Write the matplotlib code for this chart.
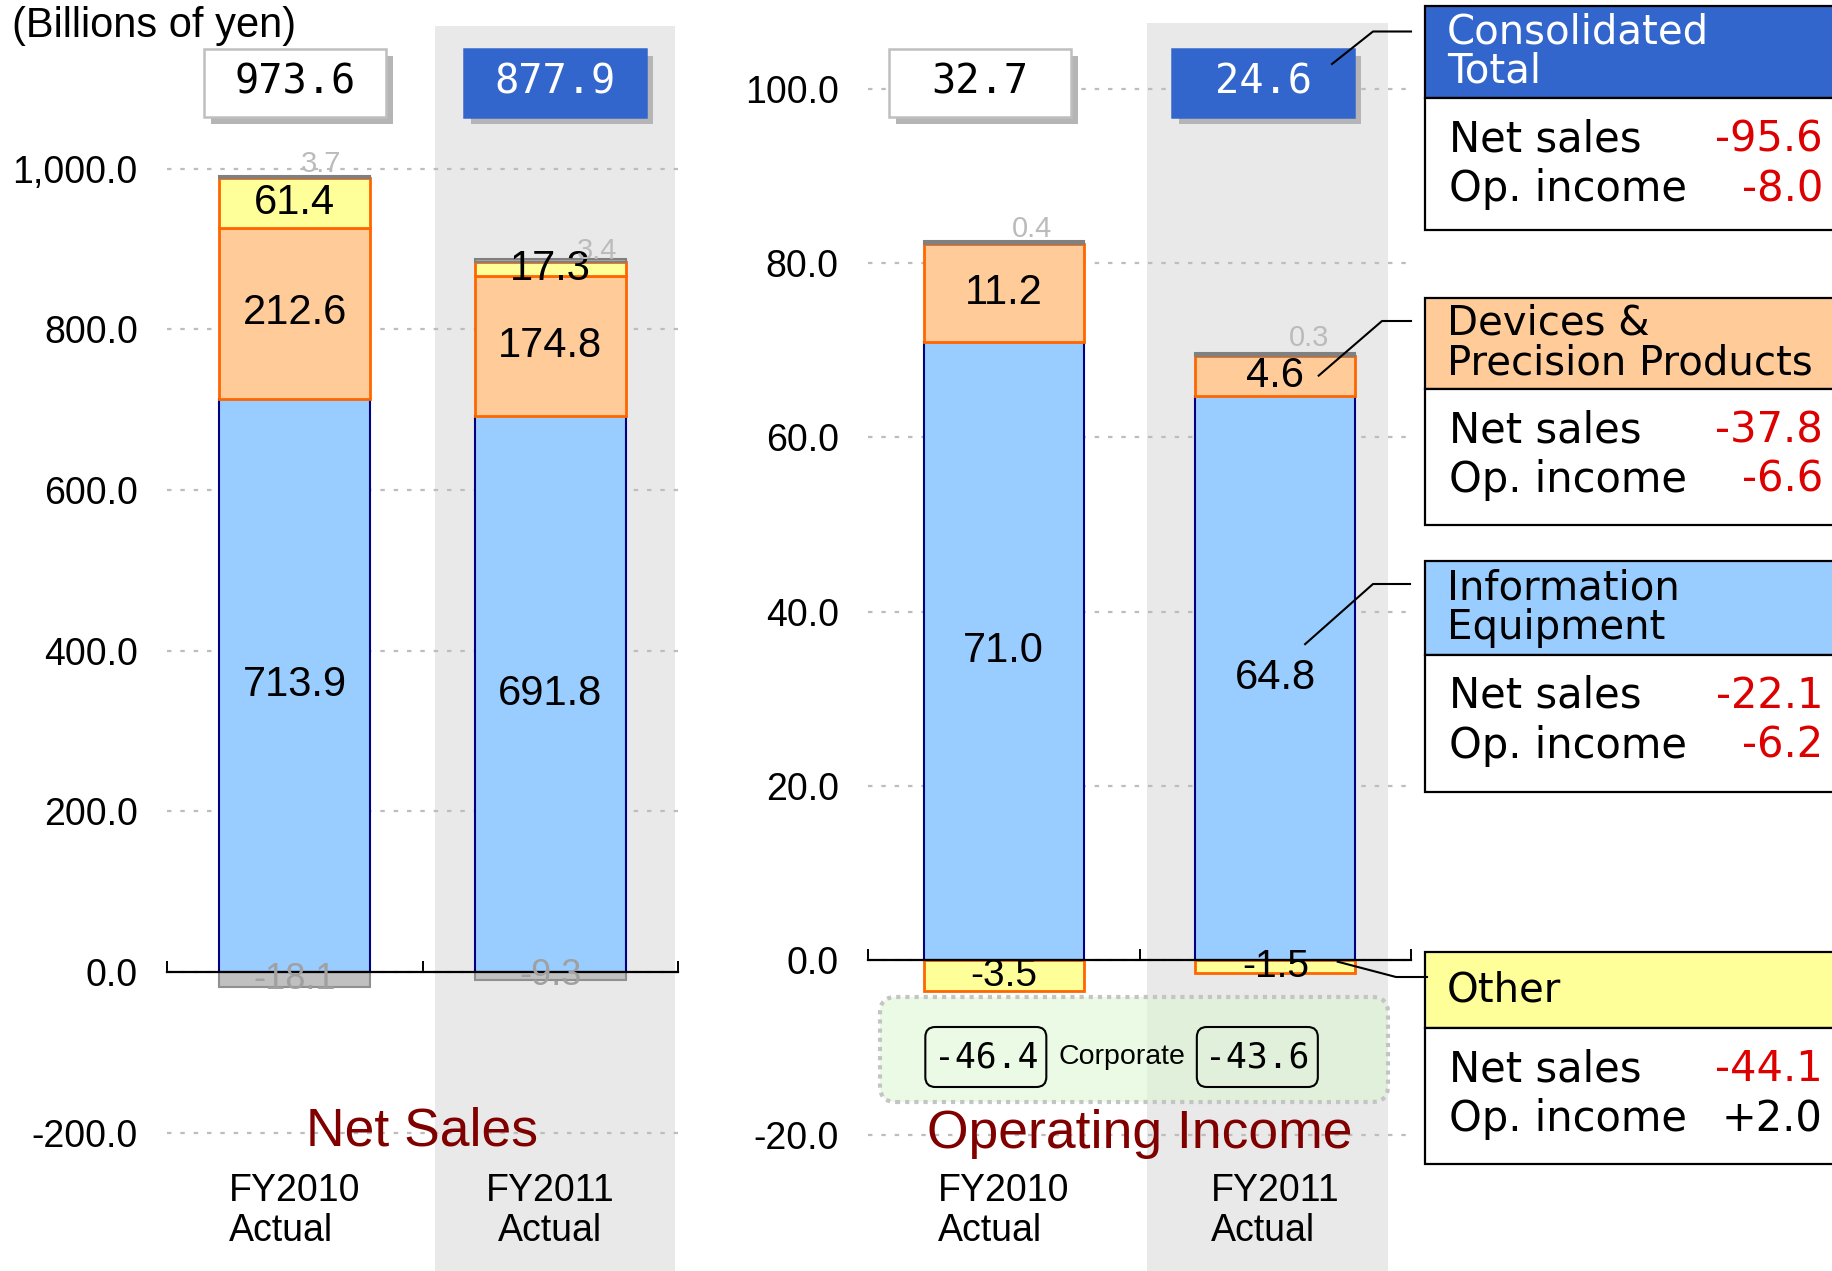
import matplotlib
matplotlib.use("Agg")
import matplotlib.pyplot as plt
import numpy as np
from matplotlib.patches import Rectangle, FancyBboxPatch
from matplotlib.lines import Line2D
import matplotlib.transforms as mtransforms

# ---------------- data ----------------
categories = ["FY2010\nActual", "FY2011\nActual"]

ns_info = [713.9, 691.8]
ns_devices = [212.6, 174.8]
ns_other = [61.4, 17.3]
ns_elim_top = [3.7, 3.4]
ns_elim_bottom = [-18.1, -9.3]
ns_total = [973.6, 877.9]

oi_info = [71.0, 64.8]
oi_devices = [11.2, 4.6]
oi_elim = [0.4, 0.3]
oi_other = [-3.5, -1.5]
oi_corporate = [-46.4, -43.6]
oi_total = [32.7, 24.6]

ns_ticks = [-200, 0, 200, 400, 600, 800, 1000]
oi_ticks = [-20, 0, 20, 40, 60, 80, 100]

panel_titles = ["Consolidated\nTotal", "Devices &\nPrecision Products",
                "Information\nEquipment", "Other"]
panel_ns_change = [-95.6, -37.8, -22.1, -44.1]
panel_oi_change = [-8.0, -6.6, -6.2, 2.0]

# ---------------- style ----------------
W, H = 1832, 1271
C_INFO, E_INFO = "#99CCFF", "#000080"
C_DEV, E_DEV = "#FFCC99", "#FF6600"
C_OTH = "#FFFF99"
C_BLUE = "#3366CC"
C_RED = "#DD0000"
C_TITLE = "#800000"
SANS = ["Liberation Sans", "DejaVu Sans"]
WIDE = ["DejaVu Sans"]
MONO = ["DejaVu Sans Mono", "DejaVu Sans"]

fig = plt.figure(figsize=(W / 100, H / 100), dpi=100)
fig.patch.set_facecolor("white")
PIX = mtransforms.IdentityTransform()


def P(x, ytop):
    return (x, H - ytop)


def setup(ax, ylim, ticks, band):
    ax.set_xlim(-0.5, 1.5)
    ax.set_ylim(*ylim)
    ax.patch.set_visible(False)
    for s in ["top", "right", "left"]:
        ax.spines[s].set_visible(False)
    ax.spines["bottom"].set_position(("data", 0))
    ax.spines["bottom"].set_linewidth(1.6)
    ax.spines["bottom"].set_zorder(4)
    ax.set_xticks([-0.5, 0.5, 1.5])
    ax.set_xticklabels([])
    ax.tick_params(axis="x", direction="in", length=8, width=1.4, color="black")
    ax.set_yticks(ticks)
    ax.set_yticklabels([f"{t:,.1f}" for t in ticks], fontsize=27, family=SANS)
    ax.tick_params(axis="y", length=0, pad=21)
    ax.yaxis.grid(True, color="#BDBDBD", linestyle=(0, (2, 4)), linewidth=1.6)
    ax.set_axisbelow(True)
    ax.axvspan(band[0], band[1], ymin=0, ymax=band[2], color="#E9E9E9",
               zorder=0, lw=0)


ax1 = fig.add_axes([167 / W, 0, (678 - 167) / W, 1])
ax2 = fig.add_axes([868 / W, 0, (1411 - 868) / W, 1])
setup(ax1, (-372.1, 1210.1), ns_ticks, (0.55, 1.49, 1 - 26 / H))
setup(ax2, (-35.64, 110.2), oi_ticks, (0.526, 1.415, 1 - 23 / H))

x = np.arange(len(categories))
bw = 0.59

# ---------------- Net sales bars ----------------
b_info = np.array(ns_info)
b_dev = b_info + np.array(ns_devices)
b_oth = b_dev + np.array(ns_other)
ax1.bar(x, ns_info, bw, color=C_INFO, edgecolor=E_INFO, lw=1.5, zorder=2)
ax1.bar(x, ns_devices, bw, bottom=b_info, color=C_DEV, edgecolor=E_DEV, lw=2, zorder=2)
ax1.bar(x, ns_other, bw, bottom=b_dev, color=C_OTH, edgecolor=E_DEV, lw=2, zorder=2)
ax1.bar(x, ns_elim_top, bw, bottom=b_oth, color="#A6A6A6", edgecolor="#808080", lw=1.5, zorder=2)
ax1.bar(x, ns_elim_bottom, bw, color="#C0C0C0", edgecolor="#909090", lw=1.5, zorder=2)

for i in x:
    ax1.text(i, ns_info[i] / 2, f"{ns_info[i]:.1f}", ha="center", va="center",
             fontsize=30, family=SANS, zorder=5)
    ax1.text(i, b_info[i] + ns_devices[i] / 2, f"{ns_devices[i]:.1f}", ha="center",
             va="center", fontsize=30, family=SANS, zorder=5)
    ax1.text(i, b_dev[i] + ns_other[i] / 2, f"{ns_other[i]:.1f}", ha="center",
             va="center", fontsize=30, family=SANS, zorder=5)
    ax1.text(i, ns_elim_bottom[i] / 2, f"{ns_elim_bottom[i]:.1f}", ha="center",
             va="center", fontsize=26, family=SANS, color="#A0A0A0", zorder=5)
top_off = [(19, 8), (34, 6)]
for i in x:
    ax1.annotate(f"{ns_elim_top[i]:.1f}", xy=(i, b_oth[i] + ns_elim_top[i]),
                 xytext=top_off[i], textcoords="offset points", ha="center",
                 va="center", fontsize=21, family=SANS, color="#BBBBBB", zorder=5)

# ---------------- Operating income bars ----------------
o_info = np.array(oi_info)
o_dev = o_info + np.array(oi_devices)
ax2.bar(x, oi_info, bw, color=C_INFO, edgecolor=E_INFO, lw=1.5, zorder=2)
ax2.bar(x, oi_devices, bw, bottom=o_info, color=C_DEV, edgecolor=E_DEV, lw=2, zorder=2)
ax2.bar(x, oi_elim, bw, bottom=o_dev, color="#808080", edgecolor="#808080", lw=1.5, zorder=2)
ax2.bar(x, oi_other, bw, color=C_OTH, edgecolor=E_DEV, lw=2, zorder=2)
for i in x:
    ax2.text(i, oi_info[i] / 2, f"{oi_info[i]:.1f}", ha="center", va="center",
             fontsize=30, family=SANS, zorder=5)
    ax2.text(i, o_info[i] + oi_devices[i] / 2, f"{oi_devices[i]:.1f}", ha="center",
             va="center", fontsize=30, family=SANS, zorder=5)
    ax2.text(i, oi_other[i] / 2, f"{oi_other[i]:.1f}", ha="center", va="center",
             fontsize=28, family=SANS, zorder=5)
top_off2 = [(20, 8), (24, 11)]
for i in x:
    ax2.annotate(f"{oi_elim[i]:.1f}", xy=(i, o_dev[i] + oi_elim[i]),
                 xytext=top_off2[i], textcoords="offset points", ha="center",
                 va="center", fontsize=21, family=SANS, color="#BBBBBB", zorder=5)

# ---------------- total boxes ----------------
def total_box(ax, cx, w, value, blue):
    trans = ax.get_xaxis_transform()
    y0, y1 = 1 - 117 / H, 1 - 49 / H
    shadow_t = mtransforms.offset_copy(trans, fig=fig, x=7, y=-7, units="dots")
    ax.add_patch(Rectangle((cx - w / 2, y0), w, y1 - y0, transform=shadow_t,
                           facecolor="#B5B5B5", edgecolor="none", zorder=6,
                           clip_on=False))
    ax.add_patch(Rectangle((cx - w / 2, y0), w, y1 - y0, transform=trans,
                           facecolor=C_BLUE if blue else "white",
                           edgecolor=C_BLUE if blue else "#BFBFBF", lw=1.8,
                           zorder=7, clip_on=False))
    ax.text(cx, (y0 + y1) / 2, f"{value:,.1f}", transform=trans, ha="center",
            va="center", fontsize=29, family=MONO,
            color="white" if blue else "black", zorder=8)


for i in x:
    total_box(ax1, i + [0.0, 0.02][i], 0.712, ns_total[i], i == 1)
    total_box(ax2, i - [0.088, 0.045][i], 0.67, oi_total[i], i == 1)

# ---------------- titles and category labels ----------------
ax1.annotate("Net Sales", xy=(0.5, ns_ticks[0]), xytext=(0, -9.5),
             textcoords="offset points", ha="center", va="baseline",
             fontsize=38.5, family=SANS, color=C_TITLE, zorder=5)
ax2.annotate("Operating Income", xy=(0.5, oi_ticks[0]), xytext=(0, -9.5),
             textcoords="offset points", ha="center", va="baseline",
             fontsize=38.5, family=SANS, color=C_TITLE, zorder=5)
for ax in (ax1, ax2):
    for i, c in enumerate(categories):
        ax.text(i, 1 - 1211 / H, c, transform=ax.get_xaxis_transform(),
                ha="center", va="center", fontsize=27, family=SANS,
                linespacing=1.17,
                multialignment="center" if (ax is ax1 and i == 1) else "left")

fig.text(12 / W, 1 - 26 / H, "(Billions of yen)", ha="left", va="center",
         fontsize=30, family=SANS)

# ---------------- corporate box ----------------
fig.patches.append(FancyBboxPatch(P(880, 1102), 1388 - 880, 1102 - 997,
                                  boxstyle="round,pad=0,rounding_size=16",
                                  transform=PIX, facecolor=(0.86, 0.97, 0.82, 0.55),
                                  edgecolor="#C4C4C4", lw=3, linestyle=(0, (1, 1.2)),
                                  zorder=1))
fig.canvas.draw()
for i in x:
    cx, _ = ax2.transData.transform((i - 0.066, 0))
    cy = H - 1057
    bwid, bhei = 121, 60
    fig.patches.append(FancyBboxPatch((cx - bwid / 2, cy - bhei / 2), bwid, bhei,
                                      boxstyle="round,pad=0,rounding_size=10",
                                      transform=PIX, facecolor="none",
                                      edgecolor="black", lw=1.5, zorder=3))
    fig.text(cx / W, cy / H, f"{oi_corporate[i]:.1f}", ha="center", va="center",
             fontsize=25, family=MONO)
fig.text(1122 / W, 1 - 1057 / H, "Corporate", ha="center", va="center",
         fontsize=20.5, family=SANS)

# ---------------- right panels ----------------
header_colors = [C_BLUE, C_DEV, C_INFO, C_OTH]
title_colors = ["white", "black", "black", "black"]
header_top = [6, 298, 561, 952]
header_bot = [98, 389, 655, 1028]
body_bot = [230, 525, 792, 1164]
PX0, PX1 = 1425, 1900
for k in range(len(panel_titles)):
    fig.patches.append(Rectangle(P(PX0, header_bot[k]), PX1 - PX0,
                                 header_bot[k] - header_top[k], transform=PIX,
                                 facecolor=header_colors[k], edgecolor="black",
                                 lw=1.6, zorder=3))
    fig.patches.append(Rectangle(P(PX0, body_bot[k]), PX1 - PX0,
                                 body_bot[k] - header_bot[k], transform=PIX,
                                 facecolor="white", edgecolor="black", lw=1.6,
                                 zorder=3))
    hc = (header_top[k] + header_bot[k]) / 2
    fig.text(1447 / W, 1 - hc / H, panel_titles[k], ha="left", va="center",
             fontsize=29, family=WIDE, color=title_colors[k], linespacing=0.98)
    yns = header_bot[k] + 41
    yoi = header_bot[k] + 91
    fig.text(1449 / W, 1 - yns / H, "Net sales", ha="left", va="center",
             fontsize=30, family=WIDE)
    fig.text(1449 / W, 1 - yoi / H, "Op. income", ha="left", va="center",
             fontsize=30, family=WIDE)
    for val, yy in ((panel_ns_change[k], yns), (panel_oi_change[k], yoi)):
        fig.text(1823 / W, 1 - yy / H, f"{val:+.1f}", ha="right", va="center",
                 fontsize=30, family=WIDE, color=C_RED if val < 0 else "black")

# ---------------- leader lines ----------------
def leader(start_disp, elbow, end):
    xs = [start_disp[0], elbow[0], end[0]]
    ys = [start_disp[1], H - elbow[1], H - end[1]]
    fig.add_artist(Line2D(xs, ys, transform=PIX, color="black", lw=1.5, zorder=9))


leader(P(1332, 64), (1373, 31.5), (1411, 31.5))
leader(ax2.transData.transform((1.16, o_info[1] + oi_devices[1] / 2)), (1382, 321), (1411, 321))
leader(ax2.transData.transform((1.11, oi_info[1] * 0.56)), (1373, 584), (1410, 584))
leader(ax2.transData.transform((1.23, oi_other[1] * 0.1)), (1396, 977), (1427, 977))

fig.savefig("out.png", dpi=100, facecolor="white")
